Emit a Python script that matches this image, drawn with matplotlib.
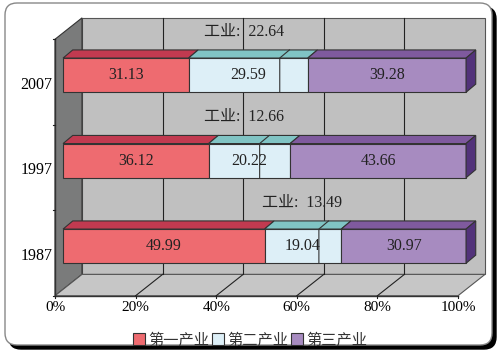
import matplotlib
matplotlib.use("Agg")
import matplotlib.pyplot as plt
from matplotlib.patches import Polygon, Rectangle, FancyBboxPatch, Patch

plt.rcParams['font.family'] = ['Liberation Serif', 'Noto Sans CJK SC']

# data (percent of GDP by sector)
years = ['1987', '1997', '2007']
primary = [49.99, 36.12, 31.13]
secondary = [19.04, 20.22, 29.59]
industry = [13.49, 12.66, 22.64]   # part of secondary
tertiary = [30.97, 43.66, 39.28]
ticks = [0, 20, 40, 60, 80, 100]
legend_names = ['第一产业', '第二产业', '第三产业']

front = ['#ee6b70', '#ddeff7', '#a78bc0']
top = ['#c23a50', '#80c4c4', '#7f5a9e']
side = '#52327a'
edge = '#333333'

# 3d geometry (depth offsets in data units)
DX, DY = 6.7, 0.25       # wall depth
BX, BY = 2.0, 0.08       # bar front face offset from front plane
BDX, BDY = 2.4, 0.095    # bar depth
H = 0.2                  # half bar height

fig = plt.figure(figsize=(5, 3.6), dpi=100)

# frame in pixel coords
bg = fig.add_axes([0, 0, 1, 1])
bg.set_xlim(0, 500)
bg.set_ylim(360, 0)
bg.axis('off')
bg.add_patch(FancyBboxPatch((9, 7), 487, 342, boxstyle='round,pad=0,rounding_size=12',
                            fc='black', ec='black', lw=1))
bg.add_patch(FancyBboxPatch((5, 3), 487, 342, boxstyle='round,pad=0,rounding_size=12',
                            fc='white', ec='#888888', lw=1))

ax = fig.add_axes([0, 0, 1, 1])
ax.set_xlim(-55 / 4.03, 445 / 4.03)
ax.set_ylim((253 - 360) / 85.5, 253 / 85.5)
ax.axis('off')

y0, y1 = -0.5, 2.5
# back wall
ax.add_patch(Rectangle((DX, y0 + DY), 100, y1 - y0, fc='#c0c0c0', ec='#555555', lw=0.8, zorder=1))
# left wall
ax.add_patch(Polygon([(0, y0), (0, y1), (DX, y1 + DY), (DX, y0 + DY)],
                     fc='#7a7b7b', ec='#333333', lw=0.8, zorder=1))
# floor
ax.add_patch(Polygon([(0, y0), (100, y0), (100 + DX, y0 + DY), (DX, y0 + DY)],
                     fc='#c6c6c6', ec='#555555', lw=0.8, zorder=1))
ax.plot([0, 100], [y0, y0], color='#333333', lw=1, zorder=2)
ax.plot([0, 0], [y0, y1], color='#333333', lw=1, zorder=2)

# gridlines on back wall and floor
for t in ticks[1:-1]:
    ax.plot([t + DX, t + DX], [y0 + DY, y1 + DY], color='#222222', lw=0.8, zorder=2)
    ax.plot([t + DX, t], [y0 + DY, y0], color='#222222', lw=0.8, zorder=2)
for t in ticks:
    ax.plot([t, t], [y0, y0 - 0.03], color='#222222', lw=0.8, zorder=2)
    ax.text(t, -0.643, '%d%%' % t, ha='center', va='center', fontsize=11,
            family='Liberation Serif', zorder=5)
for c in [-0.5, 0.5, 1.5, 2.5]:
    ax.plot([-0.6, 0], [c, c], color='#222222', lw=0.8, zorder=2)

# bars
for i, yr in enumerate(years):
    vals = [primary[i], secondary[i], tertiary[i]]
    yb = i + BY - H
    yt = i + BY + H
    left = BX
    for k, v in enumerate(vals):
        x0, x1 = left, left + v
        ax.add_patch(Rectangle((x0, yb), v, 2 * H, fc=front[k], ec=edge, lw=0.8, zorder=3))
        ax.add_patch(Polygon([(x0, yt), (x1, yt), (x1 + BDX, yt + BDY), (x0 + BDX, yt + BDY)],
                             fc=top[k], ec=edge, lw=0.8, zorder=3))
        if k == 2:
            ax.add_patch(Polygon([(x1, yb), (x1, yt), (x1 + BDX, yt + BDY), (x1 + BDX, yb + BDY)],
                                 fc=side, ec=edge, lw=0.8, zorder=3))
        ax.text((x0 + x1) / 2, i + BY, '%.2f' % v, ha='center', va='center',
                fontsize=11.5, color='#222222', zorder=5)
        left = x1
    # industry split inside secondary
    xs = BX + primary[i] + industry[i]
    ax.plot([xs, xs, xs + BDX], [yb, yt, yt + BDY], color=edge, lw=0.8, zorder=4)
    xm = BX + primary[i] + industry[i] / 2 + 2.5
    ax.text(xm, i + 0.59, '工业:  %.2f' % industry[i], ha='center', va='center',
            fontsize=11.5, color='#222222', zorder=5)
    ax.text(-0.7, i - 0.03, yr, ha='right', va='center', fontsize=11.5, zorder=5)

handles = [Patch(fc=front[k], ec='#333333', lw=0.8) for k in range(3)]
fig.legend(handles, legend_names, loc='center', bbox_to_anchor=(0.5, 1 - 340 / 360),
           ncol=3, frameon=False, handlelength=0.8, handleheight=0.8, handletextpad=0.2,
           columnspacing=0.2, prop={'family': 'Noto Sans CJK SC', 'size': 11},
           labelcolor='#333333')

fig.savefig('out.png', dpi=100)
